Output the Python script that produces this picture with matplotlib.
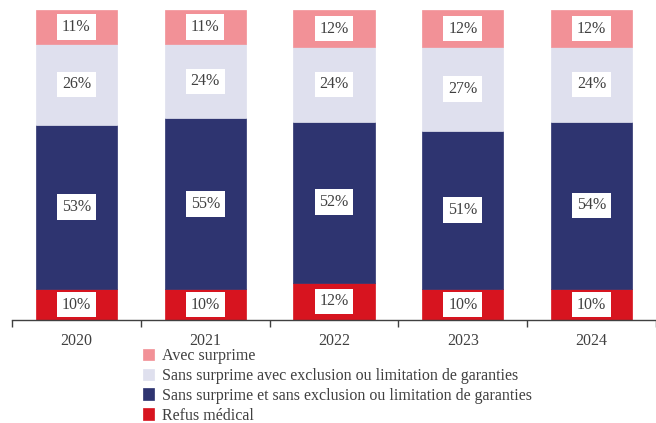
import matplotlib
matplotlib.use("Agg")
import matplotlib.pyplot as plt
import numpy as np

years = ["2020", "2021", "2022", "2023", "2024"]
refus = [10, 10, 12, 10, 10]
sans_sans = [53, 55, 52, 51, 54]
sans_avec = [26, 24, 24, 27, 24]
avec = [11, 11, 12, 12, 12]

series = [
    ("Refus médical", refus, "#D7141F"),
    ("Sans surprime et sans exclusion ou limitation de garanties", sans_sans, "#2E3470"),
    ("Sans surprime avec exclusion ou limitation de garanties", sans_avec, "#DFE0EE"),
    ("Avec surprime", avec, "#F29197"),
]

plt.rcParams['font.family'] = ['Liberation Serif', 'DejaVu Serif']

W, H = 656, 423
fig = plt.figure(figsize=(W/100, H/100), dpi=100)
left = 12 / W
bottom = (H - 320) / H
ax = fig.add_axes([left, bottom, (W - 12) / W, 310 / H])

x = np.arange(len(years))
base = np.zeros(len(years))
handles = []
for name, vals, col in series:
    vals = np.array(vals, dtype=float)
    b = ax.bar(x, vals, bottom=base, width=0.63, color=col, edgecolor=col, linewidth=0.5, label=name)
    handles.append(b)
    for xi, v, b0 in zip(x, vals, base):
        ax.text(xi, b0 + v / 2, f"{int(v)}%", ha="center", va="center", fontsize=11.5,
                color="#404040",
                bbox=dict(boxstyle="square,pad=0.3", facecolor="white", edgecolor="none"))
    base += vals

ax.set_ylim(0, 100)
ax.set_xlim(-0.5, -0.5 + (W - 12) / 130)
for s in ["top", "right", "left"]:
    ax.spines[s].set_visible(False)
ax.spines["bottom"].set_color("#404040")
ax.spines["bottom"].set_linewidth(1.0)
ax.set_yticks([])
ax.set_xticks(x)
ax.set_xticklabels(years, fontsize=11.5, color="#404040")
ax.tick_params(axis="x", which="major", length=0, pad=9)
ax.set_xticks(np.arange(-0.5, 5.0, 1.0), minor=True)
ax.tick_params(axis="x", which="minor", length=5, width=1.0, color="#404040", direction="out")

leg_handles = handles[::-1]
leg_labels = [s[0] for s in series][::-1]
leg = fig.legend(leg_handles, leg_labels, loc="upper left",
                 bbox_to_anchor=(143 / W, 1 - 348 / H), frameon=False,
                 fontsize=11.5, handlelength=0.7, handleheight=0.7, handletextpad=0.5,
                 labelspacing=0.24, borderaxespad=0, borderpad=0)
for t in leg.get_texts():
    t.set_color("#404040")

fig.savefig("out.png", dpi=100)
